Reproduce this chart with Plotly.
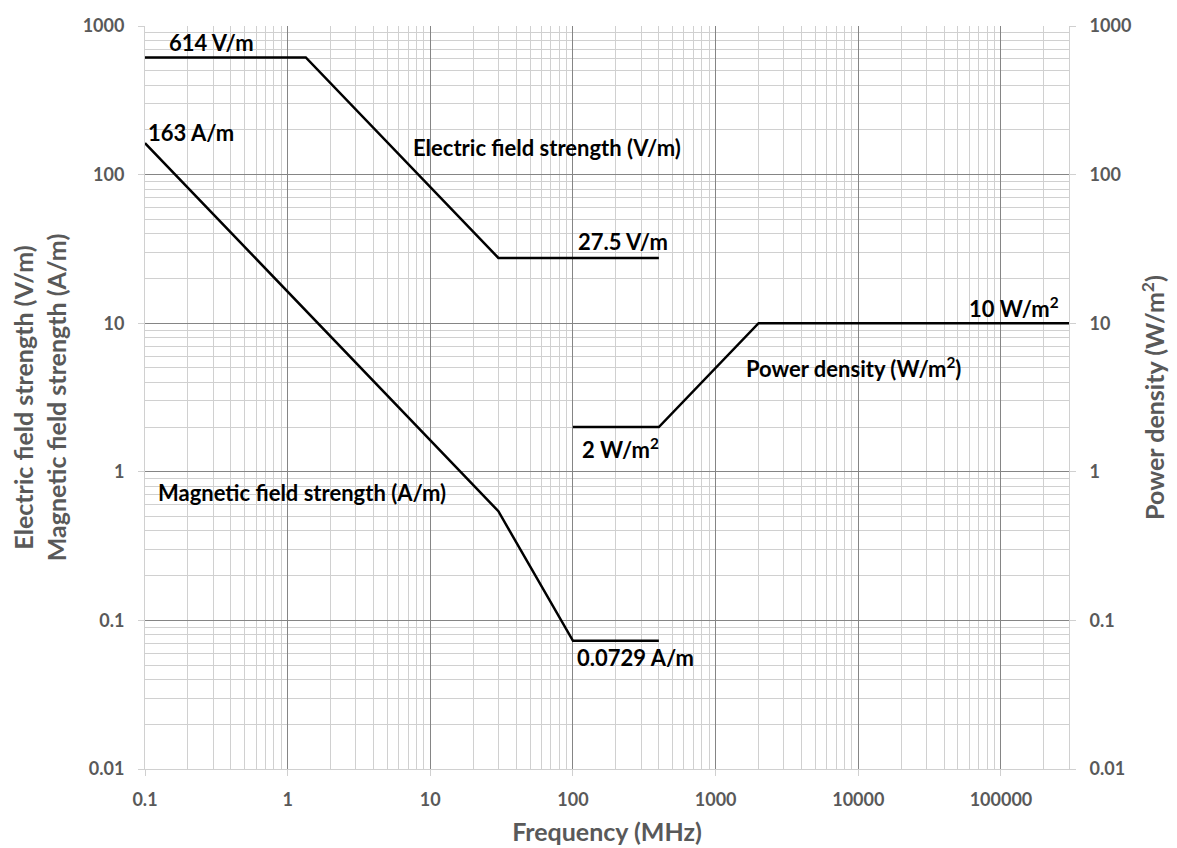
import plotly.graph_objects as go

# Data (frequency MHz, level)
e_freq = [0.1, 1.34, 30, 400]
e_vals = [614, 614, 27.5, 27.5]
h_freq = [0.1, 30, 100, 400]
h_vals = [163, 0.543, 0.0729, 0.0729]
p_freq = [100, 400, 2000, 300000]
p_vals = [2, 2, 10, 10]

x_ticks = [0.1, 1, 10, 100, 1000, 10000, 100000]
x_ticktext = ["0.1", "1", "10", "100", "1000", "10000", "100000"]
y_ticks = [0.01, 0.1, 1, 10, 100, 1000]
y_ticktext = ["0.01", "0.1", "1", "10", "100", "1000"]

# label annotations: (text, log10 x, log10 y)
labels = [
    ("614 V/m", -0.537, 2.886),
    ("163 A/m", -0.677, 2.286),
    ("Electric field strength (V/m)", 1.818, 2.185),
    ("27.5 V/m", 2.354, 1.552),
    ("10 W/m<sup>2</sup>", 5.091, 1.105),
    ("Power density (W/m<sup>2</sup>)", 3.968, 0.700),
    ("2 W/m<sup>2</sup>", 2.333, 0.160),
    ("Magnetic field strength (A/m)", 0.102, -0.138),
    ("0.0729 A/m", 2.435, -1.249),
]

minor_x = []
for d in [0.1, 1, 10, 100, 1000, 10000, 100000]:
    for k in range(2, 10):
        v = d * k
        if v <= 300000:
            minor_x.append(v)
minor_y = []
for d in [0.01, 0.1, 1, 10, 100]:
    for k in range(2, 10):
        minor_y.append(d * k)

GREY = "#595959"
FONT = "Lato"
TICKF = dict(family=FONT, size=18, color=GREY, weight="bold")
TITLEF = dict(family=FONT, size=25, color=GREY, weight="bold")

fig = go.Figure()
line = dict(color="black", width=2.5)
fig.add_trace(go.Scatter(x=e_freq, y=e_vals, mode="lines", line=line, showlegend=False))
fig.add_trace(go.Scatter(x=h_freq, y=h_vals, mode="lines", line=line, showlegend=False))
fig.add_trace(go.Scatter(x=p_freq, y=p_vals, mode="lines", line=line, showlegend=False, yaxis="y2"))

for t, lx, ly in labels:
    fig.add_annotation(x=lx, y=ly, text=t, showarrow=False, xref="x", yref="y",
                       font=dict(family=FONT, size=22, color="black", weight="bold"))

fig.update_layout(
    width=1185, height=848,
    margin=dict(l=137, r=124, t=18, b=87),
    paper_bgcolor="white", plot_bgcolor="white",
    font=dict(family=FONT, color=GREY),
    xaxis=dict(
        type="log", range=[-1, 5.4771], automargin=False,
        tickvals=x_ticks, ticktext=x_ticktext,
        tickfont=TICKF, ticklabelstandoff=8,
        showgrid=True, gridcolor="#858585", gridwidth=1,
        minor=dict(tickvals=minor_x, showgrid=True, gridcolor="#d0d0d0", gridwidth=1, ticks=""),
        showline=True, linecolor="#d0d0d0", linewidth=1,
        ticks="outside", ticklen=6, tickcolor="#d0d0d0",
        zeroline=False,
        title=dict(text="Frequency (MHz)", font=TITLEF, standoff=14),
    ),
    yaxis=dict(
        type="log", range=[-2, 3], automargin=False,
        tickvals=y_ticks, ticktext=y_ticktext,
        tickfont=TICKF, ticklabelstandoff=10,
        showgrid=True, gridcolor="#858585", gridwidth=1,
        minor=dict(tickvals=minor_y, showgrid=True, gridcolor="#d0d0d0", gridwidth=1, ticks=""),
        showline=True, linecolor="#d0d0d0", linewidth=1,
        ticks="outside", ticklen=6, tickcolor="#d0d0d0",
        zeroline=False,
        title=dict(text="Electric field strength (V/m)<br>Magnetic field strength (A/m)",
                   font=TITLEF, standoff=16),
    ),
    yaxis2=dict(
        type="log", range=[-2, 3], overlaying="y", side="right", automargin=False,
        tickvals=y_ticks, ticktext=y_ticktext,
        tickfont=TICKF, ticklabelstandoff=10,
        showgrid=False, showline=True, linecolor="#d0d0d0", linewidth=1,
        ticks="outside", ticklen=6, tickcolor="#d0d0d0",
        zeroline=False,
        title=dict(text="Power density (W/m<sup>2</sup>)", font=TITLEF, standoff=16),
    ),
)

fig.write_html("out.html")
